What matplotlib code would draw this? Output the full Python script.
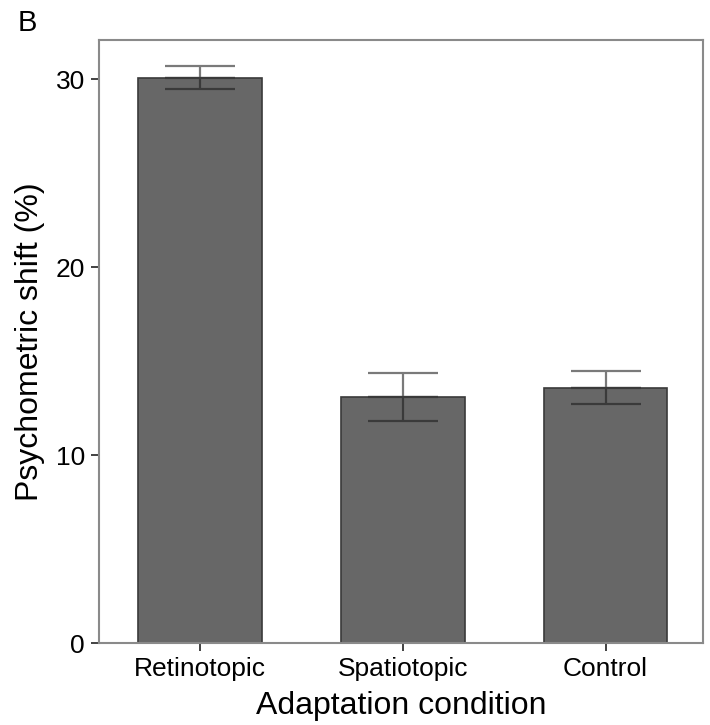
import matplotlib
matplotlib.use("Agg")
import matplotlib.pyplot as plt
import numpy as np

categories = ["Retinotopic", "Spatiotopic", "Control"]
values = [30.1, 13.1, 13.6]
errors = [0.62, 1.27, 0.86]
yticks = [0, 10, 20, 30]

plt.rcParams['font.family'] = ['Liberation Sans', 'DejaVu Sans']

fig = plt.figure(figsize=(7.1, 7.25), dpi=100)
ax = fig.add_axes([0.1394, 0.1131, 0.8506, 0.8317])

x = np.arange(len(categories))
ax.errorbar(x, values, yerr=[[0] * len(values), errors], fmt='none',
            ecolor='#7a7a7a', elinewidth=1.6, capsize=25, capthick=1.6, zorder=1)
ax.bar(x, values, width=0.61, color='#676767', edgecolor='#3a3a3a', linewidth=1.2, zorder=2)
ax.errorbar(x, values, yerr=[errors, [0] * len(values)], fmt='none',
            ecolor='#3a3a3a', elinewidth=1.6, capsize=25, capthick=1.6, zorder=3)

ax.set_xlim(-0.5, 2.48)
ax.set_ylim(0, 32.1)
ax.set_yticks(yticks)
ax.set_xticks(x)
ax.set_xticklabels(categories)
ax.tick_params(axis='both', direction='out', length=6, width=1.3, color='#333333',
               labelsize=19, pad=4)
for s in ax.spines.values():
    s.set_color('#8a8a8a')
    s.set_linewidth(1.5)

ax.set_xlabel("Adaptation condition", fontsize=23, labelpad=7)
ax.set_ylabel("Psychometric shift (%)", fontsize=23, labelpad=8)
fig.text(0.025, 0.968, "B", fontsize=21, va='center', ha='left')

fig.savefig("out.png", dpi=100)
